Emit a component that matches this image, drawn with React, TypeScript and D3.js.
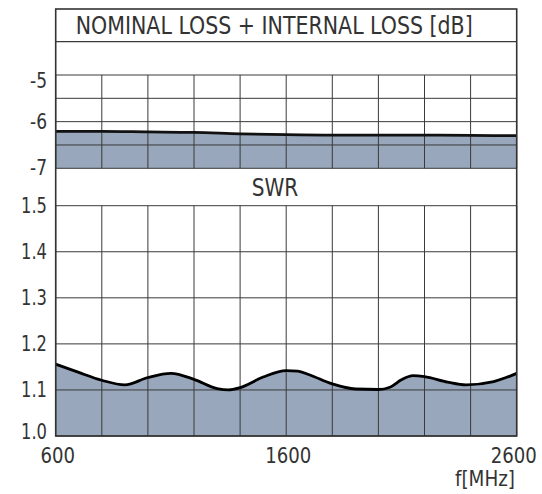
import React from "react";
import * as d3 from "d3";

const freqTicks = [600, 800, 1000, 1200, 1400, 1600, 1800, 2000, 2200, 2400, 2600];
const freqLabels = [600, 1600, 2600];
const lossTicks = [-5, -5.5, -6, -6.5, -7];
const lossLabels = [-5, -6, -7];
const swrTicks = [1.0, 1.1, 1.2, 1.3, 1.4, 1.5];
const swrLabels = ["1.0", "1.1", "1.2", "1.3", "1.4", "1.5"];

const lossFreq = [600, 800, 1000, 1200, 1400, 1600, 1800, 2000, 2200, 2400, 2600];
const lossValues = [-6.21, -6.21, -6.22, -6.23, -6.26, -6.28, -6.29, -6.29, -6.29, -6.295, -6.3];

const swrFreq = [600, 700, 800, 900, 1000, 1100, 1200, 1300, 1350, 1400, 1500, 1600, 1650, 1700, 1800, 1900, 2000, 2050, 2100, 2150, 2200, 2300, 2380, 2500, 2600];
const swrValues = [1.156, 1.138, 1.121, 1.111, 1.127, 1.136, 1.123, 1.103, 1.1, 1.105, 1.128, 1.142, 1.141, 1.133, 1.113, 1.102, 1.101, 1.106, 1.122, 1.131, 1.129, 1.117, 1.111, 1.118, 1.136];

const TITLE = "NOMINAL LOSS + INTERNAL LOSS [dB]";
const SWR_TITLE = "SWR";
const X_UNIT = "f[MHz]";

const FONT = "'Liberation Sans Narrow', 'DejaVu Sans Condensed', 'Open Sans', sans-serif";
const FILL = "#98a7bb";
const GRID = "#3a3a3a";
const TXT = "#333";

export default function App() {
  const W = 542, H = 494;
  const left = 55.7, right = 516.7;
  const frameTop = 9, titleBottom = 41.7;
  const x = d3.scaleLinear().domain([600, 2600]).range([left, right]);
  const yLoss = d3.scaleLinear().domain([-7, -5]).range([168.3, 75]);
  const ySwr = d3.scaleLinear().domain([1.0, 1.5]).range([436, 205.7]);

  const lossData = lossFreq.map((f, i) => [f, lossValues[i]] as [number, number]);
  const swrData = swrFreq.map((f, i) => [f, swrValues[i]] as [number, number]);

  const lossArea = d3.area<[number, number]>().x(d => x(d[0])).y0(yLoss(-7)).y1(d => yLoss(d[1])).curve(d3.curveMonotoneX);
  const lossLine = d3.line<[number, number]>().x(d => x(d[0])).y(d => yLoss(d[1])).curve(d3.curveMonotoneX);
  const swrArea = d3.area<[number, number]>().x(d => x(d[0])).y0(ySwr(1.0)).y1(d => ySwr(d[1])).curve(d3.curveMonotoneX);
  const swrLine = d3.line<[number, number]>().x(d => x(d[0])).y(d => ySwr(d[1])).curve(d3.curveMonotoneX);

  const lossLabelLen = 17;
  const swrLabelLen = 26;
  const xLabelLen = (f: number) => (String(f).length === 3 ? 34.5 : 46);

  return (
    <svg width={W} height={H} style={{ position: "absolute", left: 0, top: 0, background: "#fff" }} fontFamily={FONT}>
      <rect x={0} y={0} width={W} height={H} fill="#fff" />
      <path d={lossArea(lossData) || ""} fill={FILL} />
      <path d={swrArea(swrData) || ""} fill={FILL} />
      {lossTicks.map(t => (
        <line key={"lh" + t} x1={left} x2={right} y1={yLoss(t)} y2={yLoss(t)} stroke={GRID} strokeWidth={1} />
      ))}
      {freqTicks.map(f => (
        <line key={"lv" + f} x1={x(f)} x2={x(f)} y1={yLoss(-5)} y2={yLoss(-7)} stroke={GRID} strokeWidth={1} />
      ))}
      {swrTicks.map(t => (
        <line key={"sh" + t} x1={left} x2={right} y1={ySwr(t)} y2={ySwr(t)} stroke={GRID} strokeWidth={1} />
      ))}
      {freqTicks.map(f => (
        <line key={"sv" + f} x1={x(f)} x2={x(f)} y1={ySwr(1.5)} y2={ySwr(1.0)} stroke={GRID} strokeWidth={1} />
      ))}
      <path d={lossLine(lossData) || ""} fill="none" stroke="#111" strokeWidth={2.8} />
      <path d={swrLine(swrData) || ""} fill="none" stroke="#000" strokeWidth={2.8} />
      <line x1={left} x2={right} y1={titleBottom} y2={titleBottom} stroke={GRID} strokeWidth={1.2} />
      <rect x={left} y={frameTop} width={right - left} height={ySwr(1.0) - frameTop} fill="none" stroke="#333" strokeWidth={1.6} />
      <text x={75.7} y={34.3} fontSize={25} fill={TXT} textLength={397} lengthAdjust="spacingAndGlyphs">{TITLE}</text>
      <text x={251.7} y={196} fontSize={25} fill={TXT} textLength={46.6} lengthAdjust="spacingAndGlyphs">{SWR_TITLE}</text>
      {lossLabels.map(v => (
        <text key={"ll" + v} x={47 - lossLabelLen} y={yLoss(v) + (v === -5 ? 6 : 0)} fontSize={21} fill={TXT} dominantBaseline="central" textLength={lossLabelLen} lengthAdjust="spacingAndGlyphs">{String(v)}</text>
      ))}
      {swrTicks.map((v, i) => (
        <text key={"sl" + v} x={47 - swrLabelLen} y={ySwr(v) - (v === 1.0 ? 4 : 0)} fontSize={21} fill={TXT} dominantBaseline="central" textLength={swrLabelLen} lengthAdjust="spacingAndGlyphs">{swrLabels[i]}</text>
      ))}
      {freqLabels.map(f => (
        <text key={"xl" + f} x={x(f) + (f === 2600 ? -3 : 2) - xLabelLen(f) / 2} y={462.5} fontSize={21} fill={TXT} textLength={xLabelLen(f)} lengthAdjust="spacingAndGlyphs">{String(f)}</text>
      ))}
      <text x={455} y={486} fontSize={21} fill={TXT} textLength={60} lengthAdjust="spacingAndGlyphs">{X_UNIT}</text>
    </svg>
  );
}
